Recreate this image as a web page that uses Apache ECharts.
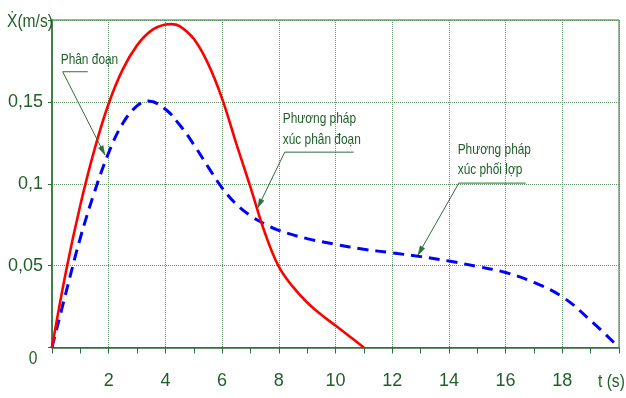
<!DOCTYPE html>
<html>
<head>
<meta charset="utf-8">
<script src="https://cdn.jsdelivr.net/npm/echarts@6/dist/echarts.min.js"></script>
<style>
  html, body { margin: 0; padding: 0; background: #ffffff; }
  #chart { width: 626px; height: 398px; }
</style>
</head>
<body>
<div id="chart"></div>
<script>
// Velocity curves (t in s, v in m/s)
const redT = [0, 0.5, 1, 1.5, 2, 2.5, 3, 3.5, 4, 4.2, 4.5, 5, 5.5, 6, 6.5, 7, 7.5, 8, 8.5, 9, 9.5, 10, 10.5, 11];
const redV = [0, 0.047, 0.087, 0.121, 0.149, 0.170, 0.1845, 0.1935, 0.1972, 0.1975, 0.1963, 0.1885, 0.1735, 0.152, 0.1245, 0.098, 0.0705, 0.0494, 0.037, 0.0275, 0.020, 0.0134, 0.0067, 0];

const blueT = [0, 0.5, 1, 1.5, 2, 2.5, 3, 3.4, 4, 4.5, 5, 5.5, 6, 6.5, 7, 7.5, 8, 9, 10, 11, 12, 13, 14, 15, 16, 17, 18, 19, 20];
const blueV = [0, 0.034, 0.067, 0.095, 0.119, 0.137, 0.1475, 0.1505, 0.1455, 0.136, 0.124, 0.1105, 0.0975, 0.0875, 0.0805, 0.0755, 0.0715, 0.0665, 0.063, 0.060, 0.0578, 0.0555, 0.0528, 0.0495, 0.0458, 0.0397, 0.031, 0.0165, 0];

const xTicks = [2, 4, 6, 8, 10, 12, 14, 16, 18];
const yTicks = [0.05, 0.1, 0.15];

const FONT = "'Liberation Sans', Arial, sans-serif";
const NARROW = 0.82;   // horizontal squeeze for the free-standing captions
const TEXT = '#1f5f2a';
const AXIS = '#2f6e3a';
const GRID = '#5e9163';

const pairs = (xs, ys) => xs.map((x, i) => [x, ys[i]]);
const fmtY = v => String(Math.round(v * 100) / 100).replace('.', ',');

const chart = echarts.init(document.getElementById('chart'), null, { renderer: 'canvas' });

chart.setOption({
  animation: false,
  backgroundColor: '#ffffff',
  grid: { left: 52, right: 7, top: 20, bottom: 50.5, show: true, borderColor: AXIS, borderWidth: 1, backgroundColor: 'transparent' },
  xAxis: {
    type: 'value', min: 0, max: 20, interval: 2,
    axisLine: { show: true, lineStyle: { color: AXIS, width: 1.5 } },
    axisTick: { show: true, length: 6, lineStyle: { color: AXIS, width: 1 } },
    minorTick: { show: true, splitNumber: 2, length: 6, lineStyle: { color: AXIS, width: 1 } },
    splitLine: { show: true, lineStyle: { color: GRID, width: 1, type: [1, 1] } },
    axisLabel: {
      margin: 25, color: TEXT, fontFamily: FONT, fontSize: 18,
      formatter: v => (xTicks.indexOf(Math.round(v)) >= 0 ? String(Math.round(v)) : '')
    }
  },
  yAxis: {
    type: 'value', min: 0, max: 0.2, interval: 0.05,
    axisLine: { show: true, lineStyle: { color: AXIS, width: 1.5 } },
    axisTick: { show: true, length: 4, lineStyle: { color: AXIS, width: 1 } },
    splitLine: { show: true, lineStyle: { color: GRID, width: 1, type: [1, 1] } },
    axisLabel: {
      margin: 9, color: TEXT, fontFamily: FONT, fontSize: 18,
      formatter: v => (yTicks.some(t => Math.abs(t - v) < 1e-9) ? fmtY(v) : '')
    }
  },
  series: [
    {
      name: 'Phân đoạn', type: 'line', data: pairs(redT, redV), smooth: 0.4,
      showSymbol: false, lineStyle: { color: '#ff0000', width: 2.6 }, z: 3
    },
    {
      name: 'Phương pháp xúc phối lợp', type: 'line', data: pairs(blueT, blueV), smooth: 0.4,
      showSymbol: false, lineStyle: { color: '#0000ff', width: 3, type: [11, 7] }, z: 2
    }
  ]
});

// Callouts, anchored in data coordinates
const callouts = [
  { text: 'Phân đoạn', at: [0.307, 0.1757], shelf: [0.377, 1.26, 0.1684], tip: [1.864, 0.1177] },
  { text: 'Phương pháp\nxúc phân đoạn', at: [8.14, 0.1331], shelf: [8.21, 10.64, 0.1193], tip: [7.256, 0.0853] },
  { text: 'Phương pháp\nxúc phối lợp', at: [14.31, 0.1146], shelf: [14.35, 16.71, 0.1004], tip: [12.91, 0.0565] }
];

const px = p => chart.convertToPixel({ gridIndex: 0 }, p);
const caption = (text, x, y, size, align) => ({
  type: 'text', x: x, y: y, z: 10, scaleX: NARROW,
  style: { text: text, fill: TEXT, fontFamily: FONT, fontSize: size, textAlign: align, textVerticalAlign: 'middle' }
});

const graphics = [];

callouts.forEach(c => {
  const a = px(c.at);
  const s0 = px([c.shelf[0], c.shelf[2]]);
  const s1 = px([c.shelf[1], c.shelf[2]]);
  const tip = px(c.tip);
  const t = caption(c.text, a[0], a[1], 14.5, 'left');
  t.style.lineHeight = 20.5;
  graphics.push(t);
  graphics.push({
    type: 'polyline', z: 10,
    shape: { points: [s1, s0, tip] },
    style: { stroke: AXIS, lineWidth: 1, fill: null }
  });
  const dx = tip[0] - s0[0], dy = tip[1] - s0[1];
  const len = Math.hypot(dx, dy), ux = dx / len, uy = dy / len;
  const hl = 9, hw = 2.6;
  const bx = tip[0] - ux * hl, by = tip[1] - uy * hl;
  graphics.push({
    type: 'polygon', z: 10,
    shape: { points: [tip, [bx - uy * hw, by + ux * hw], [bx + uy * hw, by - ux * hw]] },
    style: { fill: AXIS, stroke: AXIS, lineWidth: 0.5 }
  });
});

const origin = px([0, 0]);
graphics.push(caption('0', origin[0] - 19, origin[1] + 11, 19, 'center'));
graphics.push(caption('t (s)', 598, origin[1] + 34, 19, 'left'));
graphics.push(caption('Ẋ(m/s)', 7, 22, 19, 'left'));

chart.setOption({ graphic: graphics });
</script>
</body>
</html>
